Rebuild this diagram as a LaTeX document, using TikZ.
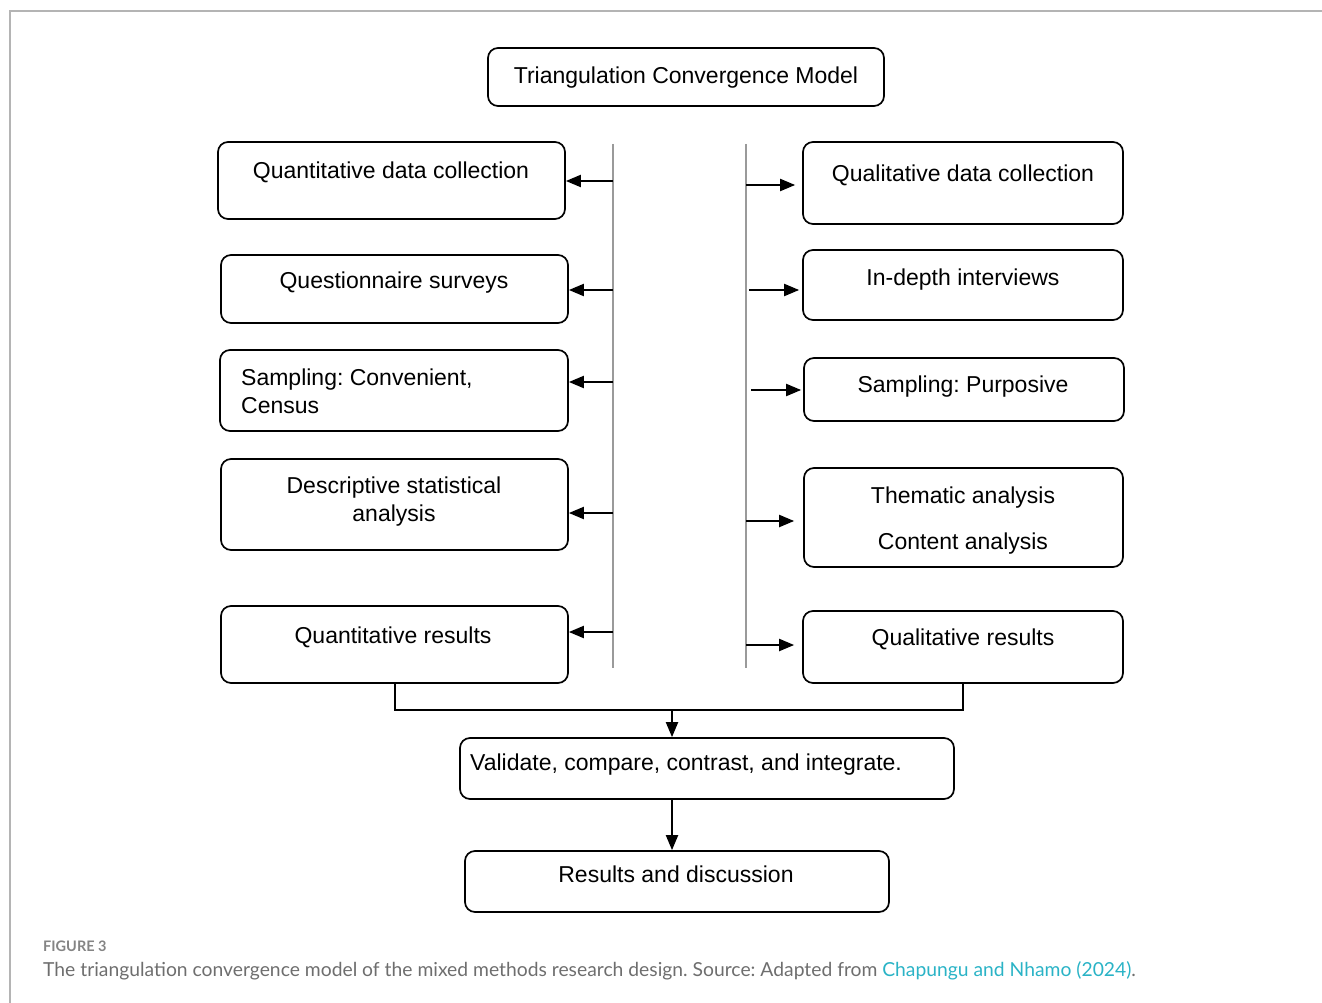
\documentclass[tikz,border=0pt]{standalone}
\usepackage{fontspec}
\setmainfont{Liberation Sans}
\newfontfamily\capfont{Lato}
\usetikzlibrary{arrows.meta}
\frenchspacing
\definecolor{spinegray}{HTML}{9A9A9A}
\definecolor{framegray}{HTML}{B4B4B4}
\definecolor{capgray}{HTML}{6E6E6E}
\definecolor{linkcyan}{HTML}{2AB3C6}
\tikzstyle{roundbox} = [draw, line width=1.7pt, rounded corners=10pt, inner sep=0pt]
\tikzstyle{boxtext} = [inner sep=0pt, anchor=base, font=\fontsize{23}{28}\selectfont]
\tikzstyle{spine} = [draw=spinegray, line width=1.2pt]
\tikzstyle{flow} = [-{Triangle[length=15pt, width=12pt]}, line width=2pt]

\begin{document}
\begin{tikzpicture}[x=1pt, y=-1pt]
      \useasboundingbox (0,0) rectangle (1322,1003);
      \draw[framegray, line width=1.5pt] (10,1003) -- (10,11) -- (1322,11);
      % title
      \node[roundbox, minimum width=396pt, minimum height=58pt] (title) at (686,77) {};
      \node[boxtext] (titletext) at (686,84) {Triangulation Convergence Model};
      % quantitative strand
      \node[roundbox, minimum width=347pt, minimum height=77pt] (quantcoll) at (391.5,180.5) {};
      \node[boxtext] (quantcolltext) at (391,179) {Quantitative data collection};
      \node[roundbox, minimum width=347pt, minimum height=68pt] (quest) at (394.5,289) {};
      \node[boxtext] (questtext) at (394,288) {Questionnaire surveys};
      \node[roundbox, minimum width=348pt, minimum height=81pt] (sampq) at (394,390.5) {};
      \node[boxtext, anchor=base west, align=left] (sampqtext) at (241,413) {Sampling: Convenient,\\Census};
      \node[roundbox, minimum width=347pt, minimum height=91pt] (descstat) at (394.5,504.5) {};
      \node[boxtext, align=center] (descstattext) at (394,521) {Descriptive statistical\\analysis};
      \node[roundbox, minimum width=347pt, minimum height=77pt] (quantres) at (394.5,644.5) {};
      \node[boxtext] (quantrestext) at (393,643) {Quantitative results};
      % qualitative strand
      \node[roundbox, minimum width=320pt, minimum height=82pt] (qualcoll) at (963,183) {};
      \node[boxtext] (qualcolltext) at (963,182) {Qualitative data collection};
      \node[roundbox, minimum width=320pt, minimum height=70pt] (interviews) at (963,285) {};
      \node[boxtext] (interviewstext) at (963,285) {In-depth interviews};
      \node[roundbox, minimum width=320pt, minimum height=63pt] (sampp) at (964,389.5) {};
      \node[boxtext] (sampptext) at (963,392) {Sampling: Purposive};
      \node[roundbox, minimum width=319pt, minimum height=99pt] (thematic) at (963.5,517.5) {};
      \node[boxtext, align=center] (thematictext) at (963,549) {Thematic analysis\\[18pt]Content analysis};
      \node[roundbox, minimum width=320pt, minimum height=72pt] (qualres) at (963,647) {};
      \node[boxtext] (qualrestext) at (963,645) {Qualitative results};
      % convergence
      \node[roundbox, minimum width=494pt, minimum height=61pt] (validate) at (707,768.5) {};
      \node[boxtext, anchor=base west] (validatetext) at (470,770) {Validate, compare, contrast, and integrate.};
      \node[roundbox, minimum width=424pt, minimum height=61pt] (results) at (677,881.5) {};
      \node[boxtext] (resultstext) at (676,882) {Results and discussion};
      % spines
      \coordinate (ltop) at (613,144);
      \coordinate (lbot) at (613,668);
      \coordinate (rtop) at (746,144);
      \coordinate (rbot) at (746,668);
      \draw[spine] (ltop) -- (lbot);
      \draw[spine] (rtop) -- (rbot);
      \coordinate (l1) at (613,181);
      \coordinate (l2) at (613,290);
      \coordinate (l3) at (613,382);
      \coordinate (l4) at (613,513);
      \coordinate (l5) at (613,632);
      \draw[flow] (l1) -- (quantcoll.east |- l1);
      \draw[flow] (l2) -- (quest.east |- l2);
      \draw[flow] (l3) -- (sampq.east |- l3);
      \draw[flow] (l4) -- (descstat.east |- l4);
      \draw[flow] (l5) -- (quantres.east |- l5);
      \coordinate (r1) at (746,185);
      \coordinate (r2) at (749,290);
      \coordinate (r3) at (751,390);
      \coordinate (r4) at (746,521);
      \coordinate (r5) at (746,645);
      \draw[flow, shorten >=7pt] (r1) -- (qualcoll.west |- r1);
      \draw[flow, shorten >=3pt] (r2) -- (interviews.west |- r2);
      \draw[flow, shorten >=2pt] (r3) -- (sampp.west |- r3);
      \draw[flow, shorten >=9pt] (r4) -- (thematic.west |- r4);
      \draw[flow, shorten >=8pt] (r5) -- (qualres.west |- r5);
      % merge
      \coordinate (merge) at (672,710);
      \draw[line width=2pt] (quantres.south) |- (merge) -| (qualres.south);
      \draw[flow] (merge) -- (merge |- validate.north);
      \draw[flow] (validate.south -| merge) -- (results.north -| merge);
      % caption
      \node[anchor=base west, inner sep=0pt, font=\capfont\bfseries\fontsize{14.5}{17}\selectfont, text=capgray!85] (figlabel) at (43,951) {FIGURE 3};
      \node[anchor=base west, inner sep=0pt, font=\capfont\fontsize{19.3}{23}\selectfont, text=capgray] (caption) at (43,976) {The triangulation convergence model of the mixed methods research design. Source: Adapted from \textcolor{linkcyan}{Chapungu and Nhamo (2024)}.};
    \end{tikzpicture}
\end{document}
